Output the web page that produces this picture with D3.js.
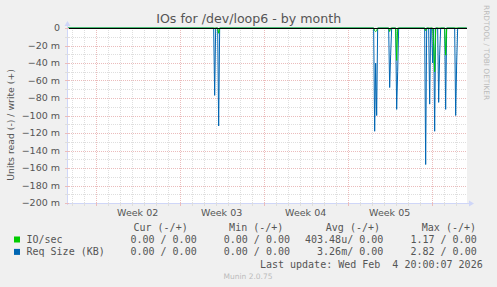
<!DOCTYPE html>
<html>
<head>
<meta charset="utf-8">
<script src="https://cdn.jsdelivr.net/npm/d3@7"></script>
<style>
  body { margin: 0; background: #f0f0f0; }
  svg { display: block; font-family: "DejaVu Sans", sans-serif; }
  .mono { font-family: "DejaVu Sans Mono", monospace; font-size: 10px; fill: #555; white-space: pre; }
</style>
</head>
<body>
<script>
// IOs for /dev/loop6 - by month (munin look)

// Needed Variables
const width = 497;
const height = 287;
const plot = {left: 67, right: 467, top: 28, bottom: 203};

// Data
const timeRange = ["2026-01-02T14:40", "2026-02-04T22:40"];
const yTicks = [0, -0.02, -0.04, -0.06, -0.08, -0.1, -0.12, -0.14, -0.16, -0.18, -0.2];
const weekLabels = ["Week 02", "Week 03", "Week 04", "Week 05"];
const weekStarts = ["2026-01-05T00:00", "2026-01-12T00:00", "2026-01-19T00:00", "2026-01-26T00:00"];

// IO/sec, read side (drawn negative), non zero 2h samples
const ioTimes  = ["2026-01-15T06:00", "2026-01-28T06:00", "2026-01-28T08:00", "2026-01-28T10:00",
                  "2026-01-29T12:00", "2026-01-30T02:00", "2026-02-01T12:00", "2026-02-02T04:00",
                  "2026-02-02T06:00", "2026-02-03T04:00"];
const ioValues = [-0.006, -0.003, -0.004, -0.003, -0.004, -0.037, -0.003, -0.020, -0.050, -0.031];

// Req Size (KB), read side
const reqTimes  = ["2026-01-14T22:00", "2026-01-15T06:00",
                   "2026-01-28T06:00", "2026-01-28T08:00", "2026-01-28T10:00",
                   "2026-01-29T12:00", "2026-01-29T14:00",
                   "2026-01-30T02:00", "2026-01-30T04:00",
                   "2026-02-01T12:00", "2026-02-01T20:00",
                   "2026-02-02T02:00", "2026-02-02T06:00",
                   "2026-02-02T14:00", "2026-02-02T16:00",
                   "2026-02-03T04:00",
                   "2026-02-04T00:00", "2026-02-04T02:00"];
const reqValues = [-0.077, -0.112,
                   -0.118, -0.040, -0.100,
                   -0.068, -0.030,
                   -0.093, -0.050,
                   -0.156, -0.087,
                   -0.040, -0.118,
                   -0.085, -0.030,
                   -0.093,
                   -0.100, -0.040];

// Legend table
const legendHead = ["Cur (-/+)", "Min (-/+)", "Avg (-/+)", "Max (-/+)"];
const seriesNames = ["IO/sec", "Req Size (KB)"];
const seriesColors = ["#00cc00", "#0066b3"];
const ioStats  = ["0.00 / 0.00", "0.00 / 0.00", "403.48u/ 0.00", "1.17 / 0.00"];
const reqStats = ["0.00 / 0.00", "0.00 / 0.00", "3.26m/ 0.00", "2.82 / 0.00"];
const lastUpdate = "Last update: Wed Feb  4 20:00:07 2026";

// Needed Functions
const parse = d3.utcParse("%Y-%m-%dT%H:%M");

const svg = d3.select('body')
  .append('svg')
  .attr('width', width)
  .attr('height', height);

svg.append('rect').attr('width', width).attr('height', height).attr('fill', '#f0f0f0');

// Scales
const xScale = d3.scaleUtc()
  .domain(timeRange.map(parse))
  .range([plot.left, plot.right]);

const yScale = d3.scaleLinear()
  .domain([-0.2, 0])
  .range([plot.bottom, plot.top]);

// full 2h series, zero where nothing was read
function buildSeries(times, values) {
  const known = new Map(times.map((t, i) => [+parse(t), values[i]]));
  return d3.utcHour.every(2)
    .range(xScale.domain()[0], xScale.domain()[1])
    .map(d => ({t: d, v: known.has(+d) ? known.get(+d) : 0}));
}

// Canvas
svg.append('rect')
  .attr('x', plot.left).attr('y', plot.top)
  .attr('width', plot.right - plot.left).attr('height', plot.bottom - plot.top)
  .attr('fill', '#ffffff');

// Grid
const minorColor = '#dedede';
const majorColor = '#ebbcbc';
const grid = svg.append('g').attr('class', 'grid').attr('stroke-dasharray', '1,1').attr('shape-rendering', 'crispEdges');

const minorY = d3.range(0, 21).map(i => -i * 0.01).filter(v => !yTicks.some(t => Math.abs(t - v) < 1e-9));
grid.selectAll('.hmin').data(minorY).join('line')
  .attr('x1', plot.left).attr('x2', plot.right)
  .attr('y1', d => Math.round(yScale(d)) + 0.5).attr('y2', d => Math.round(yScale(d)) + 0.5)
  .attr('stroke', minorColor);

grid.selectAll('.hmaj').data(yTicks).join('line')
  .attr('x1', plot.left).attr('x2', plot.right)
  .attr('y1', d => Math.round(yScale(d)) + 0.5).attr('y2', d => Math.round(yScale(d)) + 0.5)
  .attr('stroke', majorColor);

const days = d3.utcDay.range(xScale.domain()[0], xScale.domain()[1]);
const mondays = d3.utcMonday.range(xScale.domain()[0], xScale.domain()[1]);
grid.selectAll('.vmin').data(days.filter(d => d.getUTCDay() !== 1)).join('line')
  .attr('x1', d => Math.round(xScale(d)) + 0.5).attr('x2', d => Math.round(xScale(d)) + 0.5)
  .attr('y1', plot.top).attr('y2', plot.bottom)
  .attr('stroke', minorColor);
grid.selectAll('.vmaj').data(mondays).join('line')
  .attr('x1', d => Math.round(xScale(d)) + 0.5).attr('x2', d => Math.round(xScale(d)) + 0.5)
  .attr('y1', plot.top).attr('y2', plot.bottom)
  .attr('stroke', majorColor);

// Lines
const line = d3.line()
  .x(d => xScale(d.t))
  .y(d => yScale(d.v));

svg.append('path')
  .datum(buildSeries(reqTimes, reqValues))
  .attr('fill', 'none')
  .attr('stroke', seriesColors[1])
  .attr('stroke-width', 1)
  .attr('d', line);

svg.append('path')
  .datum(buildSeries(ioTimes, ioValues))
  .attr('fill', 'none')
  .attr('stroke', seriesColors[0])
  .attr('stroke-width', 1)
  .attr('d', line);

// zero rule
svg.append('line')
  .attr('x1', plot.left).attr('x2', plot.right)
  .attr('y1', yScale(0) + 0.5).attr('y2', yScale(0) + 0.5)
  .attr('stroke', '#000').attr('shape-rendering', 'crispEdges');

// Axis lines + arrows
const axisColor = '#cfd6f8';
svg.append('line')
  .attr('x1', plot.left - 2).attr('x2', plot.right + 3)
  .attr('y1', plot.bottom + 0.5).attr('y2', plot.bottom + 0.5)
  .attr('stroke', axisColor).attr('shape-rendering', 'crispEdges');
svg.append('line')
  .attr('x1', plot.left + 0.5).attr('x2', plot.left + 0.5)
  .attr('y1', plot.bottom + 2).attr('y2', plot.top - 3)
  .attr('stroke', axisColor).attr('shape-rendering', 'crispEdges');
svg.append('path')
  .attr('d', `M${plot.right + 2},${plot.bottom - 2.5} L${plot.right + 7},${plot.bottom + 0.5} L${plot.right + 2},${plot.bottom + 3.5} Z`)
  .attr('fill', axisColor);
svg.append('path')
  .attr('d', `M${plot.left - 2.5},${plot.top - 2} L${plot.left + 0.5},${plot.top - 7} L${plot.left + 3.5},${plot.top - 2} Z`)
  .attr('fill', axisColor);

// tick marks on the axes
svg.selectAll('.xt').data(days).join('line')
  .attr('x1', d => Math.round(xScale(d)) + 0.5).attr('x2', d => Math.round(xScale(d)) + 0.5)
  .attr('y1', plot.bottom - 1).attr('y2', plot.bottom + 3)
  .attr('stroke', d => d.getUTCDay() === 1 ? majorColor : minorColor)
  .attr('shape-rendering', 'crispEdges');
svg.selectAll('.yt').data(d3.range(0, 21).map(i => -i * 0.01)).join('line')
  .attr('x1', plot.left - 2).attr('x2', plot.left + 2)
  .attr('y1', d => Math.round(yScale(d)) + 0.5).attr('y2', d => Math.round(yScale(d)) + 0.5)
  .attr('stroke', (d, i) => i % 2 === 0 ? majorColor : minorColor)
  .attr('shape-rendering', 'crispEdges');

// Y tick labels
svg.selectAll('.ylab').data(yTicks).join('text')
  .attr('x', 60)
  .attr('y', d => yScale(d) + 3.4)
  .attr('text-anchor', 'end')
  .attr('font-size', 9.5)
  .attr('fill', '#555')
  .text(d => d === 0 ? '0' : d3.format('.0f')(d * 1000) + ' m');

// Week labels, centred on the week
svg.selectAll('.xlab').data(weekLabels).join('text')
  .attr('x', (d, i) => xScale(d3.utcHour.offset(parse(weekStarts[i]), 84)))
  .attr('y', 216)
  .attr('text-anchor', 'middle')
  .attr('font-size', 9.5)
  .attr('fill', '#555')
  .text(d => d);

// Title
svg.append('text')
  .attr('x', 248.7).attr('y', 23)
  .attr('text-anchor', 'middle')
  .attr('font-size', 12.6)
  .attr('fill', '#555')
  .text('IOs for /dev/loop6 - by month');

// Y axis title
svg.append('text')
  .attr('transform', 'translate(14,125) rotate(-90)')
  .attr('text-anchor', 'middle')
  .attr('font-size', 9.3)
  .attr('fill', '#555')
  .text('Units read (-) / write (+)');

// Watermark
svg.append('text')
  .attr('transform', 'translate(484,5) rotate(90)')
  .attr('font-size', 7.4)
  .attr('fill', '#bbb')
  .text('RRDTOOL / TOBI OETIKER');

// Legend
const headRight = [187.7, 283.3, 380, 476];
const valRight = [196.7, 290, 383.3, 476.7];
svg.selectAll('.lh').data(legendHead).join('text')
  .attr('class', 'mono')
  .attr('x', (d, i) => headRight[i]).attr('y', 231.3)
  .attr('text-anchor', 'end')
  .text(d => d);

[ioStats, reqStats].forEach((stats, r) => {
  const y = 242.8 + r * 12.4;
  svg.append('rect')
    .attr('x', 14).attr('y', y - 6.3).attr('width', 6).attr('height', 6)
    .attr('fill', seriesColors[r]);
  svg.append('text').attr('class', 'mono')
    .attr('x', 26.5).attr('y', y)
    .text(seriesNames[r]);
  svg.selectAll('.lv' + r).data(stats).join('text')
    .attr('class', 'mono')
    .attr('x', (d, i) => valRight[i]).attr('y', y)
    .attr('text-anchor', 'end')
    .text(d => d);
});

svg.append('text').attr('class', 'mono')
  .attr('x', 482.7).attr('y', 267.5)
  .attr('text-anchor', 'end')
  .text(lastUpdate);

svg.append('text')
  .attr('x', 248).attr('y', 278.5)
  .attr('text-anchor', 'middle')
  .attr('font-size', 7.5)
  .attr('fill', '#bbb')
  .text('Munin 2.0.75');
</script>
</body>
</html>
